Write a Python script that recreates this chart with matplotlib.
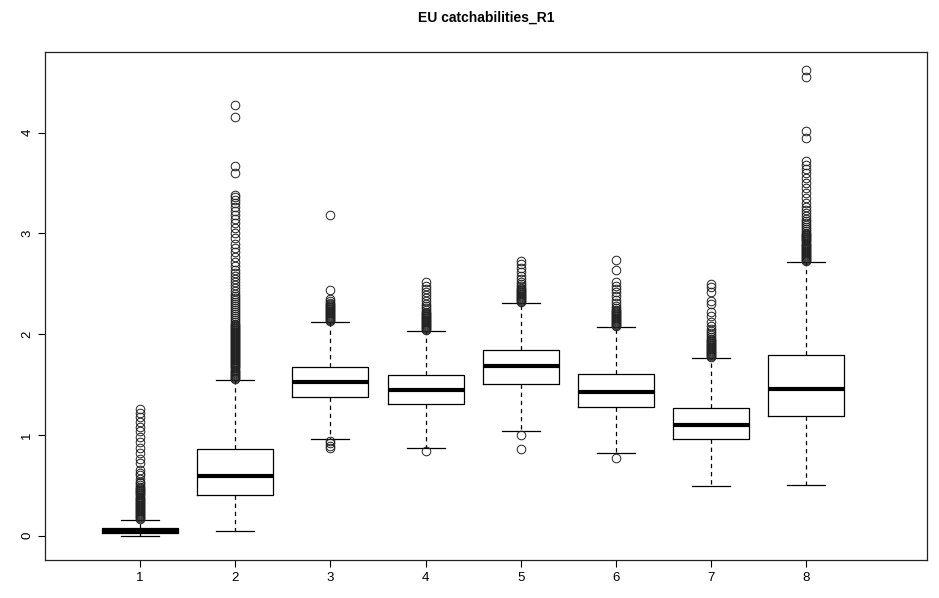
import matplotlib
matplotlib.use("Agg")
import matplotlib.pyplot as plt

plt.rcParams['font.family'] = ['Liberation Sans', 'DejaVu Sans']

title = "EU catchabilities_R1"
categories = ["1", "2", "3", "4", "5", "6", "7", "8"]

whisker_low = [0.00, 0.05, 0.96, 0.87, 1.04, 0.82, 0.49, 0.50]
q1 = [0.03, 0.40, 1.38, 1.31, 1.51, 1.28, 0.96, 1.19]
median = [0.05, 0.59, 1.53, 1.45, 1.68, 1.43, 1.10, 1.46]
q3 = [0.08, 0.86, 1.67, 1.60, 1.84, 1.61, 1.27, 1.79]
whisker_high = [0.16, 1.55, 2.12, 2.03, 2.31, 2.07, 1.76, 2.72]

outliers_1 = [0.17, 0.18, 0.19, 0.20, 0.21, 0.22, 0.23, 0.24, 0.25, 0.26, 0.27,
              0.28, 0.29, 0.30, 0.31, 0.32, 0.33, 0.34, 0.35, 0.36, 0.37, 0.38,
              0.39, 0.40, 0.41, 0.42, 0.43, 0.44, 0.45, 0.46, 0.47, 0.48, 0.50,
              0.52, 0.53, 0.56, 0.60, 0.62, 0.65, 0.72, 0.76, 0.82, 0.87, 0.93,
              0.98, 1.04, 1.08, 1.13, 1.18, 1.22, 1.26]
outliers_2 = [1.56, 1.57, 1.58, 1.59, 1.60, 1.61, 1.62, 1.63, 1.64, 1.65, 1.66,
              1.67, 1.68, 1.69, 1.70, 1.71, 1.72, 1.73, 1.74, 1.75, 1.76, 1.77,
              1.78, 1.79, 1.80, 1.81, 1.82, 1.83, 1.84, 1.85, 1.86, 1.87, 1.88,
              1.89, 1.90, 1.91, 1.92, 1.93, 1.94, 1.95, 1.96, 1.97, 1.98, 1.99,
              2.00, 2.01, 2.02, 2.03, 2.04, 2.05, 2.06, 2.07, 2.08, 2.09, 2.10,
              2.12, 2.14, 2.16, 2.18, 2.20, 2.22, 2.24, 2.26, 2.28, 2.30, 2.32,
              2.34, 2.36, 2.38, 2.40, 2.43, 2.46, 2.49, 2.52, 2.55, 2.58, 2.61,
              2.64, 2.68, 2.72, 2.77, 2.82, 2.86, 2.90, 2.95, 3.00, 3.05, 3.10,
              3.14, 3.18, 3.22, 3.26, 3.30, 3.33, 3.36, 3.38, 3.60, 3.67, 4.16,
              4.27]
outliers_3 = [0.87, 0.89, 0.92, 0.94, 2.13, 2.14, 2.15, 2.16, 2.17, 2.18, 2.19,
              2.20, 2.21, 2.22, 2.23, 2.24, 2.25, 2.26, 2.27, 2.28, 2.29, 2.30,
              2.31, 2.33, 2.35, 2.44, 3.18]
outliers_4 = [0.84, 2.04, 2.05, 2.06, 2.07, 2.08, 2.09, 2.10, 2.11, 2.12, 2.13,
              2.14, 2.15, 2.16, 2.17, 2.18, 2.19, 2.20, 2.21, 2.22, 2.24, 2.26,
              2.28, 2.30, 2.33, 2.36, 2.39, 2.42, 2.45, 2.48, 2.52]
outliers_5 = [0.86, 1.00, 2.32, 2.33, 2.34, 2.35, 2.36, 2.37, 2.38, 2.39, 2.40,
              2.41, 2.42, 2.43, 2.44, 2.45, 2.46, 2.48, 2.50, 2.52, 2.55, 2.58,
              2.62, 2.66, 2.70, 2.73]
outliers_6 = [0.77, 2.08, 2.09, 2.10, 2.11, 2.12, 2.13, 2.14, 2.15, 2.16, 2.17,
              2.18, 2.19, 2.20, 2.21, 2.22, 2.23, 2.24, 2.26, 2.28, 2.31, 2.34,
              2.38, 2.42, 2.45, 2.48, 2.52, 2.64, 2.74]
outliers_7 = [1.77, 1.78, 1.79, 1.80, 1.81, 1.82, 1.83, 1.84, 1.85, 1.86, 1.87,
              1.88, 1.89, 1.90, 1.91, 1.92, 1.93, 1.94, 1.95, 1.97, 1.99, 2.01,
              2.03, 2.05, 2.08, 2.12, 2.18, 2.22, 2.30, 2.33, 2.42, 2.47, 2.50]
outliers_8 = [2.73, 2.74, 2.75, 2.76, 2.77, 2.78, 2.79, 2.80, 2.81, 2.82, 2.83,
              2.84, 2.85, 2.86, 2.87, 2.88, 2.89, 2.90, 2.91, 2.92, 2.93, 2.94,
              2.95, 2.96, 2.97, 2.98, 2.99, 3.00, 3.02, 3.04, 3.06, 3.08, 3.10,
              3.12, 3.14, 3.17, 3.20, 3.23, 3.26, 3.30, 3.35, 3.40, 3.45, 3.50,
              3.55, 3.60, 3.64, 3.68, 3.72, 3.95, 4.02, 4.55, 4.62]
outliers = [outliers_1, outliers_2, outliers_3, outliers_4,
            outliers_5, outliers_6, outliers_7, outliers_8]

stats = []
for i, lab in enumerate(categories):
    stats.append(dict(label=lab, whislo=whisker_low[i], q1=q1[i], med=median[i],
                      q3=q3[i], whishi=whisker_high[i], fliers=outliers[i]))

fig = plt.figure(figsize=(9.39, 5.98), dpi=100)
ax = fig.add_axes([45/939, (598-560)/598, (927-45)/939, (560-52)/598])

positions = list(range(1, len(categories) + 1))
ax.bxp(stats, positions=positions, widths=0.8, capwidths=0.4,
       boxprops=dict(color='black', linewidth=0.9),
       medianprops=dict(color='black', linewidth=3.0, solid_capstyle='butt'),
       whiskerprops=dict(color='black', linewidth=0.9, linestyle=(0, (3.5, 3))),
       capprops=dict(color='black', linewidth=0.9),
       flierprops=dict(marker='o', markersize=6.2, markerfacecolor='none',
                       markeredgecolor='#222222', markeredgewidth=0.7,
                       linestyle='none'))

ax.set_xlim(0.0, 9.27)
ax.set_ylim(-0.24, 4.8)
ax.set_xticks(positions)
ax.set_xticklabels(categories)
ax.set_yticks([0, 1, 2, 3, 4])
ax.set_yticklabels(["0", "1", "2", "3", "4"], rotation=90, va='center')
ax.tick_params(axis='both', direction='out', length=5, width=0.8,
               labelsize=9.5, colors='black')
for s in ax.spines.values():
    s.set_linewidth(0.9)
    s.set_color('#222222')

fig.text(486/939, 1 - 18/598, title, ha='center', va='center',
         fontsize=10, fontweight='bold')

fig.savefig("out.png", dpi=100)
